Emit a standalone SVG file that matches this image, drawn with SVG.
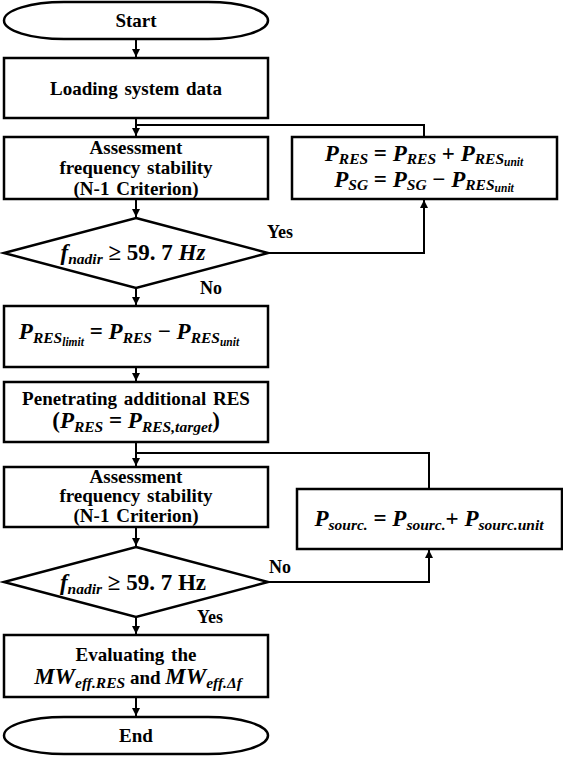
<svg xmlns="http://www.w3.org/2000/svg" width="563" height="758" viewBox="0 0 563 758">
<defs>
<marker id="ah" markerUnits="userSpaceOnUse" markerWidth="10" markerHeight="10" refX="8" refY="4" orient="auto">
<path d="M0,0 L8,4 L0,8 z" fill="#000"/>
</marker>
<style>
text{font-family:"Liberation Serif","DejaVu Serif",serif;font-weight:bold;fill:#000}
.box{fill:#fff;stroke:#000;stroke-width:2.5}
.t{font-size:19px;text-anchor:middle;word-spacing:2px}
.l{font-size:18px}
.m{font-style:italic;font-size:23px;text-anchor:middle}
.s{font-size:15.5px}
.ss{font-size:11.5px}
.u{font-style:normal}
.c{fill:none;stroke:#000;stroke-width:2}
</style>
</defs>
<g id="connectors">
<path class="c" d="M136,39 V57" marker-end="url(#ah)"/>
<path class="c" d="M136,118 V136" marker-end="url(#ah)"/>
<path class="c" d="M424,137 V125 H136"/>
<path class="c" d="M136,199 V217" marker-end="url(#ah)"/>
<path class="c" d="M268,253 H424 V200" marker-end="url(#ah)"/>
<path class="c" d="M136,288 V305" marker-end="url(#ah)"/>
<path class="c" d="M136,367 V381" marker-end="url(#ah)"/>
<path class="c" d="M136,442 V466" marker-end="url(#ah)"/>
<path class="c" d="M429,489 V453 H136"/>
<path class="c" d="M136,527 V546" marker-end="url(#ah)"/>
<path class="c" d="M268,582 H429 V550" marker-end="url(#ah)"/>
<path class="c" d="M136,617 V634" marker-end="url(#ah)"/>
<path class="c" d="M136,697 V716" marker-end="url(#ah)"/>
<text class="l" x="267" y="238">Yes</text>
<text class="l" x="200" y="294">No</text>
<text class="l" x="269" y="573">No</text>
<text class="l" x="197" y="623">Yes</text>
</g>
<g id="start">
<rect class="box" x="4" y="2" width="264" height="37" rx="60" ry="18.5"/>
<text class="t" x="136" y="27">Start</text>
</g>
<g id="loading">
<rect class="box" x="4" y="58" width="264" height="60"/>
<text class="t" x="136" y="95">Loading system data</text>
</g>
<g id="assess1">
<rect class="box" x="4" y="137" width="264" height="62"/>
<text class="t" x="136" y="154">Assessment</text>
<text class="t" x="136" y="174">frequency stability</text>
<text class="t" x="136" y="195">(N-1 Criterion)</text>
</g>
<g id="update1">
<rect class="box" x="292" y="137" width="265" height="62"/>
<text class="m" x="424" y="161">P<tspan class="s" dy="3">RES</tspan><tspan class="u" dy="-3"> = </tspan>P<tspan class="s" dy="3">RES</tspan><tspan class="u" dy="-3"> + </tspan>P<tspan class="s" dy="3">RES</tspan><tspan class="ss" dy="2">unit</tspan></text>
<text class="m" x="424" y="187">P<tspan class="s" dy="3">SG</tspan><tspan class="u" dy="-3"> = </tspan>P<tspan class="s" dy="3">SG</tspan><tspan class="u" dy="-3"> − </tspan>P<tspan class="s" dy="3">RES</tspan><tspan class="ss" dy="2">unit</tspan></text>
</g>
<g id="decision1">
<polygon class="box" points="136,218 268,253 136,288 4,253"/>
<text class="m" x="133" y="260">f<tspan class="s" dy="4">nadir</tspan><tspan class="u" dy="-4"> ≥ 59. 7 </tspan>Hz</text>
</g>
<g id="limit">
<rect class="box" x="4" y="306" width="264" height="61"/>
<text class="m" x="129" y="339">P<tspan class="s" dy="4">RES</tspan><tspan class="ss" dy="3">limit</tspan><tspan class="u" dy="-7"> = </tspan>P<tspan class="s" dy="4">RES</tspan><tspan class="u" dy="-4"> − </tspan>P<tspan class="s" dy="4">RES</tspan><tspan class="ss" dy="3">unit</tspan></text>
</g>
<g id="penetrating">
<rect class="box" x="4" y="382" width="264" height="60"/>
<text class="t" x="136" y="405">Penetrating additional RES</text>
<text class="m" x="136" y="428"><tspan class="u">(</tspan>P<tspan class="s" dy="4">RES</tspan><tspan class="u" dy="-4"> = </tspan>P<tspan class="s" dy="4">RES,target</tspan><tspan class="u" dy="-4">)</tspan></text>
</g>
<g id="assess2">
<rect class="box" x="4" y="467" width="264" height="60"/>
<text class="t" x="136" y="483">Assessment</text>
<text class="t" x="136" y="502">frequency stability</text>
<text class="t" x="136" y="522">(N-1 Criterion)</text>
</g>
<g id="update2">
<rect class="box" x="297" y="489" width="265" height="60"/>
<text class="m" x="429" y="526">P<tspan class="s" dy="4">sourc.</tspan><tspan class="u" dy="-4"> = </tspan>P<tspan class="s" dy="4">sourc.</tspan><tspan class="u" dy="-4">+ </tspan>P<tspan class="s" dy="4">sourc.unit</tspan></text>
</g>
<g id="decision2">
<polygon class="box" points="136,547 268,582 136,617 4,582"/>
<text class="m" x="133" y="590">f<tspan class="s" dy="4">nadir</tspan><tspan class="u" dy="-4"> ≥ 59. 7 Hz</tspan></text>
</g>
<g id="evaluating">
<rect class="box" x="4" y="635" width="264" height="62"/>
<text class="t" x="136" y="661">Evaluating the</text>
<text class="m" x="138" y="684">MW<tspan class="s" dy="4">eff.RES</tspan><tspan class="u" dy="-4" font-size="19"> and </tspan>MW<tspan class="s" dy="4">eff.Δf</tspan></text>
</g>
<g id="end">
<rect class="box" x="4" y="717" width="264" height="37" rx="60" ry="18.5"/>
<text class="t" x="136" y="742">End</text>
</g>
</svg>
